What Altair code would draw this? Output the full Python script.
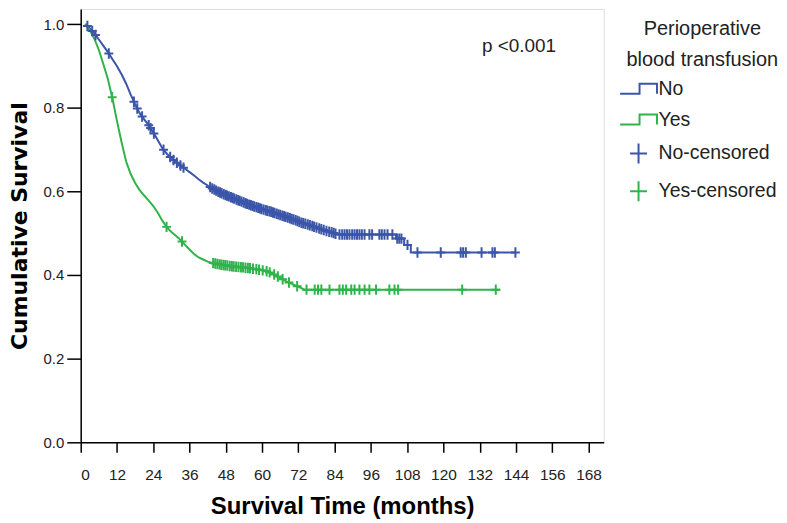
import altair as alt
import pandas as pd
import numpy as np

BLUE = "#3b55a9"
GREEN = "#30b34a"
FONT = "Liberation Sans"

# ---- data ----
groups = ["No", "Yes", "No-censored", "Yes-censored"]
legend_title = ["Perioperative", "blood transfusion"]
p_text = "p <0.001"
x_ticks = [0, 12, 24, 36, 48, 60, 72, 84, 96, 108, 120, 132, 144, 156, 168]
y_ticks = [0.0, 0.2, 0.4, 0.6, 0.8, 1.0]

no_time = [1.5, 3, 4.5, 6, 7.5, 9, 10.5, 12, 13.5, 15, 16.5, 18, 19.5, 21, 22.5, 24,
           25.5, 27, 28.5, 30, 31.5, 33, 34.5, 36, 37.5, 39, 40.5, 42, 43.5, 45, 47,
           49, 51, 53, 55, 57, 59, 61, 63, 65, 67, 69, 71, 73, 75, 77, 79, 81, 83, 85,
           104.3, 104.3, 107.0, 107.0, 109.2, 109.2, 143.8]
no_surv = [1.000, 0.990, 0.978, 0.963, 0.948, 0.933, 0.916, 0.899, 0.880, 0.858, 0.832,
           0.808, 0.787, 0.772, 0.758, 0.741, 0.722, 0.703, 0.690, 0.679, 0.670, 0.662,
           0.654, 0.646, 0.638, 0.629, 0.621, 0.614, 0.607, 0.601, 0.594, 0.588, 0.582,
           0.576, 0.570, 0.565, 0.560, 0.555, 0.551, 0.546, 0.541, 0.536, 0.531, 0.525,
           0.521, 0.516, 0.511, 0.506, 0.502, 0.497, 0.497, 0.487, 0.487, 0.472, 0.472,
           0.454, 0.454]

yes_time = [1.5, 3, 4.5, 6, 7.5, 9, 10.5, 12, 13.5, 15, 16.5, 18, 19.5, 21, 22.5, 24,
            25.5, 27, 28.5, 30, 31.5, 33, 34.5, 36, 37.5, 39, 40.5, 42, 44, 47, 50, 54,
            58, 61, 63, 64.5, 66, 68, 70, 72, 74, 138.8]
yes_surv = [1.000, 0.985, 0.965, 0.938, 0.904, 0.868, 0.822, 0.768, 0.718, 0.672, 0.642,
            0.620, 0.603, 0.590, 0.578, 0.565, 0.549, 0.530, 0.514, 0.503, 0.494, 0.484,
            0.472, 0.461, 0.450, 0.442, 0.437, 0.432, 0.428, 0.424, 0.421, 0.418, 0.414,
            0.410, 0.405, 0.399, 0.393, 0.385, 0.378, 0.372, 0.365, 0.365]

no_censor = [2.2, 3.8, 4.9, 9.3, 17.6, 18.7, 20.3, 22.5, 23.1, 24.2, 27.4, 29.6, 30.7,
             31.8, 33.0, 34.0, 42.8, 43.5, 44.2, 44.8, 45.5, 46.1, 46.6, 47.3, 47.9, 48.4,
             49.0, 49.7, 50.3, 50.8, 51.5, 52.1, 52.6, 53.2, 53.9, 54.5, 55.0, 55.7, 56.3,
             56.9, 57.4, 58.1, 58.7, 59.3, 59.8, 60.5, 61.2, 61.7, 62.4, 63.0, 63.6, 64.1,
             64.8, 65.4, 66.0, 66.7, 67.3, 67.8, 68.5, 69.2, 69.8, 70.4, 71.1, 71.7, 72.3,
             73.0, 73.6, 74.3, 75.1, 75.8, 76.6, 77.2, 78.0, 78.9, 79.6, 80.4, 81.3, 82.2,
             83.0, 83.7, 84.3, 85.6, 86.5, 87.3, 88.1, 88.9, 89.8, 90.6, 91.4, 92.2, 93.0,
             93.9, 95.5, 96.4, 98.8, 99.6, 100.5, 101.5, 103.1, 104.7, 105.4, 106.1, 108.1,
             111.4, 119.1, 125.7, 126.5, 127.4, 132.6, 136.2, 137.0, 143.8]
yes_censor = [10.4, 28.4, 33.5, 43.8, 44.5, 45.2, 45.9, 46.5, 47.2, 47.8, 48.5, 49.3,
              50.0, 50.6, 51.4, 52.2, 53.0, 53.7, 54.5, 55.3, 56.0, 57.0, 58.1, 59.0, 60.2,
              61.5, 62.5, 64.0, 65.2, 66.8, 68.9, 71.6, 74.7, 77.4, 78.5, 79.6, 82.3, 85.6,
              86.7, 87.8, 89.5, 90.6, 92.2, 93.9, 95.5, 97.7, 102.1, 103.8, 105.0, 126.2,
              137.3]

# ---- tables ----
curve_df = pd.concat([
    pd.DataFrame({"time": no_time, "surv": no_surv, "grp": "No", "k": range(len(no_time))}),
    pd.DataFrame({"time": yes_time, "surv": yes_surv, "grp": "Yes", "k": range(len(yes_time))}),
])


def at(times, surv, t):
    """Curve value at each censoring time (along the drawn curve)."""
    return np.interp(np.array(t), np.array(times), np.array(surv))


cens_df = pd.concat([
    pd.DataFrame({"time": no_censor, "surv": at(no_time, no_surv, no_censor), "grp": "No-censored"}),
    pd.DataFrame({"time": yes_censor, "surv": at(yes_time, yes_surv, yes_censor), "grp": "Yes-censored"}),
])

xscale = alt.Scale(domain=[0, 173], nice=False, zero=False)
yscale = alt.Scale(domain=[0, 1.036], nice=False)

xaxis = alt.Axis(values=x_ticks, title="Survival Time (months)", grid=False,
                 titleFont=FONT, titleFontSize=24, titleFontWeight="bold", titleColor="black",
                 labelFont=FONT, labelFontSize=15.5, labelColor="#222", labelPadding=15,
                 tickSize=10, tickColor="black", tickWidth=1.5, domainColor="black",
                 domainWidth=1.5, titlePadding=12)
yaxis = alt.Axis(values=y_ticks, format=".1f", title="Cumulative Survival", grid=False,
                 titleFont="DejaVu Sans", titleFontSize=22, titleFontWeight="bold",
                 titleColor="black",
                 labelFont=FONT, labelFontSize=15, labelColor="#222", labelPadding=3,
                 tickSize=14, tickColor="black", tickWidth=1.5, domainColor="black",
                 domainWidth=1.5, titlePadding=12)

STEP = "M -1.85 0.5 L 0.1 0.5 L 0.1 -0.5 L 1.85 -0.5 L 1.85 0.5"
CROSS = "M -0.85 0 L 0.85 0 M 0 -1 L 0 1"

legend = alt.Legend(
    title=legend_title, orient="none", legendX=548, legendY=10, padding=0,
    titleFont=FONT, titleFontSize=20, titleFontWeight="normal", titleColor="#222",
    titleAnchor="middle", titleAlign="center", titleLineHeight=31, titlePadding=8,
    labelFont=FONT, labelFontSize=19.5, labelColor="#222", labelOffset=9,
    symbolSize=400, symbolStrokeWidth=2, symbolFillColor="transparent", symbolOpacity=1,
    rowPadding=10,
)

cscale = alt.Scale(domain=groups, range=[BLUE, GREEN, BLUE, GREEN])
sscale = alt.Scale(domain=groups, range=[STEP, STEP, CROSS, CROSS])

lines = alt.Chart(curve_df).mark_line(strokeWidth=2, clip=True).encode(
    x=alt.X("time:Q", scale=xscale, axis=xaxis),
    y=alt.Y("surv:Q", scale=yscale, axis=yaxis),
    stroke=alt.Stroke("grp:N", scale=alt.Scale(domain=["No", "Yes"], range=[BLUE, GREEN]),
                      legend=None),
    order="k:Q",
)

points = alt.Chart(cens_df).mark_point(size=110, strokeWidth=2, filled=False,
                                       opacity=1, clip=True).encode(
    x=alt.X("time:Q", scale=xscale, axis=xaxis),
    y=alt.Y("surv:Q", scale=yscale, axis=yaxis),
    color=alt.Color("grp:N", scale=cscale, legend=legend),
    shape=alt.Shape("grp:N", scale=sscale, legend=legend),
)

ptext = alt.Chart(pd.DataFrame({"t": [p_text]})).mark_text(
    font=FONT, fontSize=19, color="#222", align="center", baseline="middle").encode(
    x=alt.value(440), y=alt.value(37), text="t:N")

chart = alt.layer(lines, points, ptext).properties(
    width=525, height=435, padding={"left": 0, "top": 0, "right": 0, "bottom": 0}
).configure_view(stroke=None).configure(background="white")

chart.save("out.html", embed_options={"renderer": "svg", "actions": False})
